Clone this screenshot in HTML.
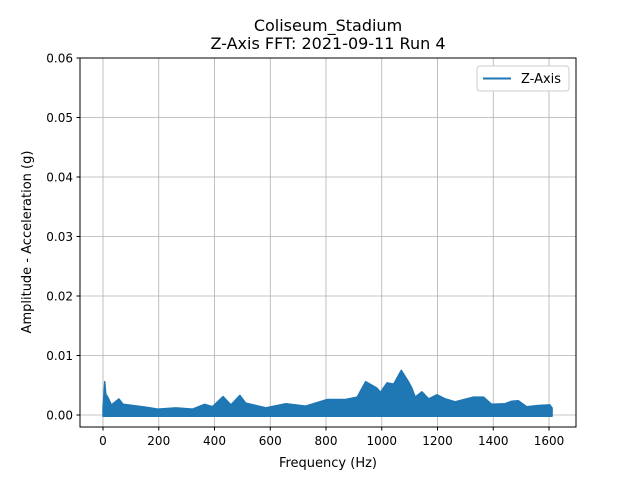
<!DOCTYPE html>
<html><head><meta charset="utf-8"><style>
body{margin:0;background:#fff;font-family:"Liberation Sans","DejaVu Sans",sans-serif}
svg text{font-family:"DejaVu Sans","Liberation Sans",sans-serif;fill:#000}
</style></head><body>
<svg id="chart" width="640" height="480" viewBox="0 0 640 480" xmlns="http://www.w3.org/2000/svg">
<rect width="640" height="480" fill="#fff"/>
<text x="328" y="31" font-size="16" text-anchor="middle">Coliseum_Stadium</text>
<text x="328" y="49" font-size="16" text-anchor="middle">Z-Axis FFT: 2021-09-11 Run 4</text>
<g id="grid"></g>
<g id="series"></g>
<rect x="80" y="58" width="496" height="369" fill="none" stroke="#000" stroke-width="1"/>
<g id="axes"></g>
<text x="328" y="467" font-size="13" text-anchor="middle">Frequency (Hz)</text>
<text transform="translate(31,242) rotate(-90)" font-size="13" text-anchor="middle">Amplitude - Acceleration (g)</text>
<g>
<rect x="477" y="66" width="92" height="25" rx="3" fill="#fff" stroke="#ccc"/>
<line x1="483" y1="78.5" x2="511" y2="78.5" stroke="#1f77b4" stroke-width="2"/>
<text x="521" y="83" font-size="13">Z-Axis</text>
</g>
</svg>
<script>
const freqs=[0,3,6,10,18,30,57,72,107,155,197,262,322,364,393,431,459,491,512,584,656,727,805,870,912,942,965,983,995,1019,1043,1070,1097,1108,1120,1144,1168,1198,1228,1263,1287,1329,1365,1394,1442,1466,1490,1520,1561,1603,1611];
const amps=[0.0012,0.003,0.0056,0.0035,0.0029,0.0017,0.0027,0.0018,0.0016,0.0013,0.001,0.0012,0.001,0.0018,0.0014,0.0031,0.0017,0.0033,0.002,0.0012,0.0019,0.0015,0.0026,0.0026,0.003,0.0056,0.005,0.0045,0.0038,0.0054,0.0052,0.0075,0.0055,0.0045,0.003,0.0039,0.0027,0.0034,0.0027,0.0022,0.0025,0.003,0.003,0.0018,0.0019,0.0023,0.0024,0.0014,0.0016,0.0017,0.0012];
const xTicks=[0,200,400,600,800,1000,1200,1400,1600];
const yTicks=[0,0.01,0.02,0.03,0.04,0.05,0.06];
const yLabels=["0.00","0.01","0.02","0.03","0.04","0.05","0.06"];
const NS="http://www.w3.org/2000/svg";
const X=f=>103+f*(446/1600);
const Y=v=>415-v*5950;
const grid=document.getElementById('grid'),axes=document.getElementById('axes'),series=document.getElementById('series');
function mk(t,a,p){const e=document.createElementNS(NS,t);for(const k in a)e.setAttribute(k,a[k]);p.appendChild(e);return e;}
xTicks.forEach(t=>{
 const g=mk('line',{x1:X(t),x2:X(t),y1:58,y2:427,stroke:'#b0b0b0','stroke-width':0.8},grid);
 
 
 mk('line',{x1:X(t),x2:X(t),y1:427,y2:430.5,stroke:'#000'},axes);
 const tx=mk('text',{x:X(t),y:445,'font-size':12,'text-anchor':'middle'},axes);tx.textContent=t;
 
 
});
yTicks.forEach((t,i)=>{
 const g=mk('line',{x1:80,x2:576,y1:Y(t),y2:Y(t),stroke:'#b0b0b0','stroke-width':0.8},grid);
 
 
 mk('line',{x1:76.5,x2:80,y1:Y(t),y2:Y(t),stroke:'#000'},axes);
 const tx=mk('text',{x:73,y:Y(t)+4.5,'font-size':12,'text-anchor':'end'},axes);tx.textContent=yLabels[i];
 
 
});
let d='M'+X(freqs[0])+','+Y(-0.0002);
freqs.forEach((f,i)=>{d+=' L'+X(f).toFixed(1)+','+Y(amps[i]).toFixed(1);});
d+=' L'+X(freqs[freqs.length-1])+','+Y(-0.0002)+' Z';
const p=mk('path',{d:d,fill:'#1f77b4',stroke:'#1f77b4','stroke-width':1.5,'stroke-linejoin':'round'},series);


</script>
</body></html>
